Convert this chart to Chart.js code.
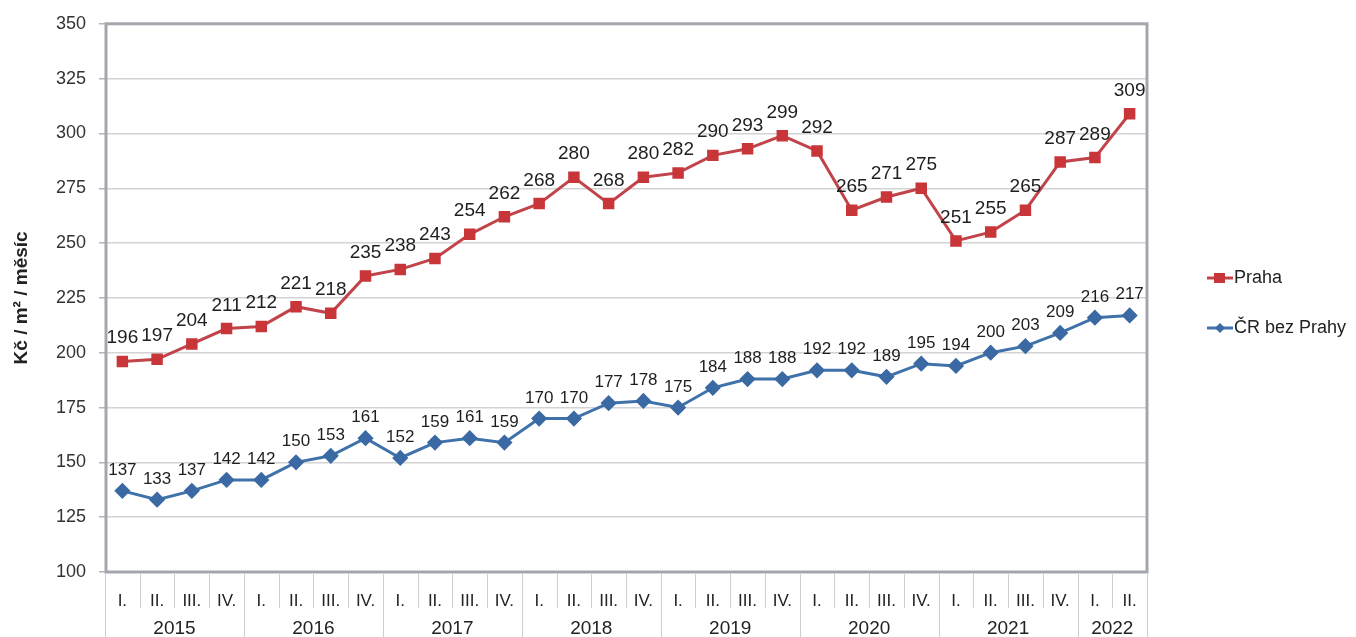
<!DOCTYPE html>
<html>
<head>
<meta charset="utf-8">
<script src="https://cdn.jsdelivr.net/npm/chart.js@4.4.1/dist/chart.umd.min.js"></script>
<style>
html,body{margin:0;padding:0;background:#fff}
#wrap{width:1356px;height:637px;position:relative}
</style>
</head>
<body>
<div id="wrap"><canvas id="myChart"></canvas></div>
<script>
const quarterLabels = ['I.','II.','III.','IV.','I.','II.','III.','IV.','I.','II.','III.','IV.','I.','II.','III.','IV.',
  'I.','II.','III.','IV.','I.','II.','III.','IV.','I.','II.','III.','IV.','I.','II.']
const years = ['2015','2016','2017','2018','2019','2020','2021','2022']
const quartersPerYear = [4,4,4,4,4,4,4,2]
const praha = [196,197,204,211,212,221,218,235,238,243,254,262,268,280,268,280,282,290,293,299,292,265,271,275,251,255,265,287,289,309]
const crBezPrahy = [137,133,137,142,142,150,153,161,152,159,161,159,170,170,177,178,175,184,188,188,192,192,189,195,194,200,203,209,216,217]
const yTicks = {min:100, max:350, step:25}

const font = '"Liberation Sans", Arial, sans-serif'
const redLine = '#c0444a'
const redMark = '#c8363a'
const blueLine = '#3f72aa'
const blueMark = '#3a69a3'

// ramecek kolem grafu
const framePlugin = {
  id:'frame',
  beforeDatasetsDraw(chart){
    const {ctx, chartArea:a} = chart
    ctx.save()
    ctx.strokeStyle = '#a3a7ad'
    ctx.lineWidth = 3
    ctx.strokeRect(a.left+1, a.top, a.right-a.left-1, a.bottom-a.top)
    ctx.restore()
  }
}

// oddelovace a roky pod osou x
const yearAxisPlugin = {
  id:'yearAxis',
  afterDraw(chart){
    const {ctx, chartArea:a} = chart
    const x = chart.scales.x
    const h = chart.height
    ctx.save()
    ctx.strokeStyle = '#cdcdcd'
    ctx.lineWidth = 1
    const edge = i => {
      if(i<=0) return a.left
      if(i>=quarterLabels.length) return a.right
      return (x.getPixelForValue(i-1)+x.getPixelForValue(i))/2
    }
    let start = 0
    const yearEdges = [0]
    quartersPerYear.forEach(n => { start += n; yearEdges.push(start) })
    for(let i=0;i<=quarterLabels.length;i++){
      const px = Math.round(edge(i))+0.5
      const isYear = yearEdges.includes(i)
      ctx.beginPath()
      ctx.moveTo(px, a.bottom+2)
      ctx.lineTo(px, isYear ? h : a.bottom+36)
      ctx.stroke()
    }
    ctx.fillStyle = '#222'
    ctx.font = '19px ' + font
    ctx.textAlign = 'center'
    ctx.textBaseline = 'middle'
    years.forEach((y,k) => {
      const cx = (edge(yearEdges[k])+edge(yearEdges[k+1]))/2
      ctx.fillText(y, cx, a.bottom+57)
    })
    ctx.restore()
  }
}

// popisky hodnot
const valueLabels = {
  id:'valueLabels',
  afterDatasetsDraw(chart){
    const ctx = chart.ctx
    ctx.save()
    ctx.fillStyle = '#1e1e1e'
    ctx.textAlign = 'center'
    ctx.textBaseline = 'alphabetic'
    chart.data.datasets.forEach((ds,di) => {
      const meta = chart.getDatasetMeta(di)
      ctx.font = (di===0 ? '19px ' : '17px ') + font
      meta.data.forEach((pt,i) => {
        ctx.fillText(ds.data[i], pt.x, pt.y - (di===0 ? 18 : 16))
      })
    })
    ctx.restore()
  }
}

// legenda vpravo
const sideLegend = {
  id:'sideLegend',
  afterDraw(chart){
    const {ctx, chartArea:a} = chart
    const items = [
      {text:'Praha', line:redLine, mark:redMark, shape:'rect', y:278},
      {text:'ČR bez Prahy', line:blueLine, mark:blueMark, shape:'rectRot', y:328}
    ]
    ctx.save()
    ctx.font = '18px ' + font
    ctx.textBaseline = 'middle'
    items.forEach(it => {
      const x0 = a.right + 60
      ctx.strokeStyle = it.line
      ctx.lineWidth = 3
      ctx.beginPath()
      ctx.moveTo(x0, it.y)
      ctx.lineTo(x0+26, it.y)
      ctx.stroke()
      ctx.fillStyle = it.mark
      if(it.shape==='rect'){
        ctx.fillRect(x0+7, it.y-5, 11, 10)
      } else {
        ctx.beginPath()
        ctx.moveTo(x0+13, it.y-5)
        ctx.lineTo(x0+18, it.y)
        ctx.lineTo(x0+13, it.y+5)
        ctx.lineTo(x0+8, it.y)
        ctx.closePath()
        ctx.fill()
      }
      ctx.fillStyle = '#222'
      ctx.fillText(it.text, x0+27, it.y)
    })
    ctx.restore()
  }
}

const data = {
  labels: quarterLabels,
  datasets: [
    {
      label:'Praha',
      data: praha,
      borderColor: redLine,
      backgroundColor: redMark,
      pointBackgroundColor: redMark,
      pointBorderColor: redMark,
      pointStyle:'rect',
      pointRadius:6,
      borderWidth:3,
      tension:0
    },
    {
      label:'ČR bez Prahy',
      data: crBezPrahy,
      borderColor: blueLine,
      backgroundColor: blueMark,
      pointBackgroundColor: blueMark,
      pointBorderColor: blueMark,
      pointStyle:'rectRot',
      pointRadius:6,
      borderWidth:3,
      tension:0
    }
  ]
}

const config = {
  type:'line',
  data: data,
  options:{
    responsive:true,
    maintainAspectRatio:false,
    animation:false,
    layout:{padding:{left:0,right:209,top:22,bottom:0}},
    plugins:{legend:{display:false},tooltip:{enabled:false}},
    scales:{
      x:{
        offset:true,
        grid:{display:false},
        border:{display:false},
        ticks:{
          autoSkip:false, maxRotation:0, padding:11,
          color:'#222',
          font:{family:font, size:17}
        },
        afterFit(scale){ scale.height = 65 }
      },
      y:{
        min:yTicks.min, max:yTicks.max,
        grid:{color:'#d3d3d3', lineWidth:1.5, tickLength:6, tickColor:'#b5b5b5'},
        border:{display:false},
        ticks:{
          stepSize:yTicks.step, padding:13,
          color:'#333',
          font:{family:font, size:18}
        },
        title:{
          display:true, text:'Kč / m² / měsíc',
          color:'#222',
          font:{family:font, size:19, weight:'bold'},
          padding:{top:10,bottom:0}
        },
        afterFit(scale){ scale.width = 105 }
      }
    }
  },
  plugins:[framePlugin, valueLabels, yearAxisPlugin, sideLegend]
}

const myChart = new Chart(document.getElementById('myChart'), config)
</script>
</body>
</html>
